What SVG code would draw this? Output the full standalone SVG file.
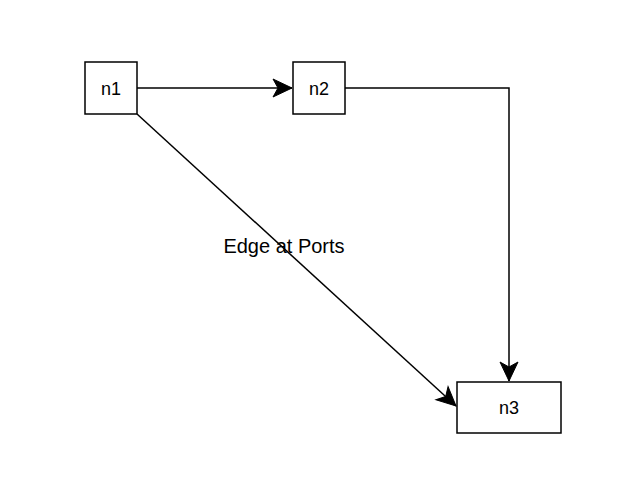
<svg xmlns="http://www.w3.org/2000/svg" width="640" height="480" viewBox="0 0 640 480">
<style>
.node rect{fill:#fff;stroke:#000;stroke-width:1.5}
.node text{font-family:"Liberation Sans",Arial,sans-serif;font-size:18px;text-anchor:middle;fill:#000}
.edge{fill:none;stroke:#000;stroke-width:1.5}
.lbl{font-family:"Liberation Sans",Arial,sans-serif;font-size:20px;text-anchor:middle;fill:#000}
</style>
<defs>
<marker id="arr" markerUnits="userSpaceOnUse" markerWidth="24" markerHeight="24" viewBox="-20 -12 24 24" refX="0" refY="0" orient="auto" overflow="visible">
<path d="M0,0 L-19,-9 L-14,0 L-19,9 Z" fill="#000" stroke="#000" stroke-width="1"/>
</marker>
</defs>
<rect width="640" height="480" fill="#fff"/>
<g id="connectors">
<path class="edge" d="M137,88 L292,88" marker-end="url(#arr)"/>
<path class="edge" d="M345,88 L509,88 L509,381" marker-end="url(#arr)"/>
<path class="edge" d="M137,114 L456,406" marker-end="url(#arr)"/>
<text class="lbl" x="284" y="253">Edge at Ports</text>
</g>
<g id="n1" class="node"><rect x="85" y="62" width="52" height="52"/><text x="111" y="94.5">n1</text></g>
<g id="n2" class="node"><rect x="293" y="62" width="52" height="52"/><text x="319" y="94.5">n2</text></g>
<g id="n3" class="node"><rect x="457" y="382" width="104" height="51"/><text x="509" y="414">n3</text></g>
</svg>
